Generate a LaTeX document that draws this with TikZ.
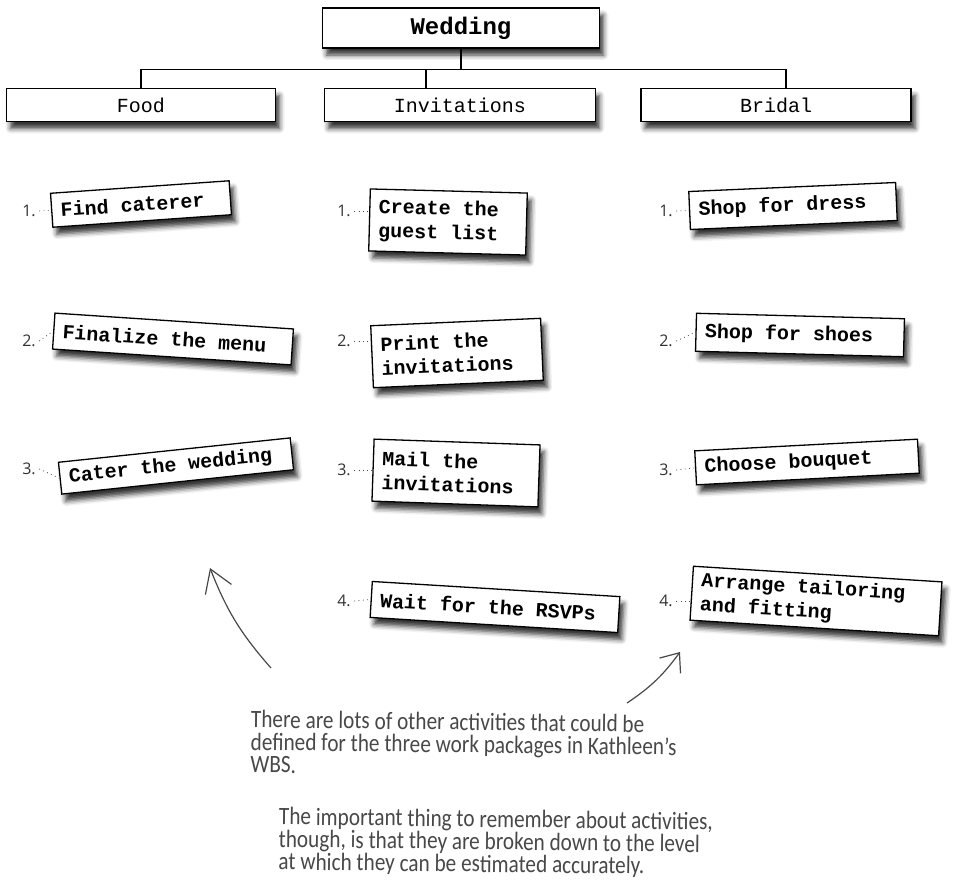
\documentclass[tikz,border=0pt]{standalone}
\usepackage{fontspec}
\setmonofont{Liberation Mono}
\newfontfamily\handfont[FakeStretch=0.85]{Carlito}
\newfontfamily\numfont{Open Sans}
\usetikzlibrary{arrows.meta,shadows.blur}
\definecolor{pencil}{HTML}{484848}
\newcommand\taskfont{\fontsize{20}{24}\selectfont\ttfamily\bfseries}
\newcommand\gap{\char32\relax}

\begin{document}
\begin{tikzpicture}[x=1pt,y=-1pt]

\tikzstyle{wbs} = [rectangle, draw=black, line width=1.3pt, fill=white, minimum height=33pt, font=\fontsize{20}{24}\selectfont\ttfamily, blur shadow={shadow xshift=4pt, shadow yshift=-7pt, shadow blur radius=5pt, shadow opacity=80}]
\tikzstyle{task} = [wbs, font=\taskfont, align=left, inner xsep=9pt]
\tikzstyle{num} = [font=\fontsize{16}{18}\selectfont\numfont, text=pencil!70!black]
\tikzstyle{leader} = [pencil, line width=0.8pt, dash pattern=on 0.8pt off 3.5pt]
\tikzstyle{tree} = [line width=1.3pt]
\tikzstyle{hand} = [pencil, line width=1.2pt]
\tikzstyle{note} = [font=\fontsize{25}{22.5}\selectfont\handfont, text=pencil, align=left, inner sep=0pt]

\useasboundingbox (0,0) rectangle (963,879);

\node (wed) [wbs, minimum width=277pt, minimum height=40pt, font=\fontsize{24}{28}\selectfont\ttfamily\bfseries] at (461,28) {Wedding};
\node (food) [wbs, minimum width=269pt] at (141,105) {Food};
\node (inv) [wbs, minimum width=271pt] at (460,105) {Invitations};
\node (brid) [wbs, minimum width=270pt] at (776,105) {Bridal};

\draw [tree] (wed.south) -- ++(0,21) coordinate (bus);
\draw [tree] (food.north) |- (bus) -| ([xshift=10pt]brid.north);
\draw [tree] ([xshift=-34pt]inv.north) -- ([xshift=-34pt]inv.north |- bus);

% rotated text: spaces as glyphs
\node (f1) [task, text width=161pt, minimum height=34pt, rotate=4] at (141,204) {Find\gap caterer};
\node (f2) [task, text width=221pt, minimum height=36pt, rotate=-3.8] at (173,339) {Finalize\gap the\gap menu};
\node (f3) [task, text width=215pt, minimum height=32pt, rotate=6] at (176,466) {Cater\gap the\gap wedding};

\node (i1) [task, text width=139pt, minimum height=62pt, rotate=-1.5] at (448,222) {Create\gap the\\guest\gap list};
\node (i2) [task, text width=152pt, minimum height=62pt, rotate=2.5] at (457,353) {Print\gap the\\invitations};
\node (i3) [task, text width=148pt, minimum height=62pt, rotate=-2] at (456,473) {Mail\gap the\\invitations};
\node (i4) [task, text width=230pt, minimum height=36pt, rotate=-3.5] at (495,607) {Wait\gap for\gap the\gap RSVPs};

\node (b1) [task, text width=189pt, minimum height=38pt, rotate=2.5] at (793,206) {Shop\gap for\gap dress};
\node (b2) [task, text width=190pt, minimum height=38pt, rotate=-1.5] at (800,335) {Shop\gap for\gap shoes};
\node (b3) [task, text width=205pt, minimum height=34pt, rotate=3] at (807,462) {Choose\gap bouquet};
\node (b4) [task, text width=231pt, minimum height=54pt, rotate=-3.6] at (816,601) {Arrange\gap tailoring\\and\gap fitting};

\node (f1n) [num] at (29,211) {1.};
\node (f2n) [num] at (29,341) {2.};
\node (f3n) [num] at (29,469) {3.};
\node (i1n) [num] at (344,211) {1.};
\node (i2n) [num] at (344,341) {2.};
\node (i3n) [num] at (344,470) {3.};
\node (i4n) [num] at (344,601) {4.};
\node (b1n) [num] at (666,211) {1.};
\node (b2n) [num] at (666,341) {2.};
\node (b3n) [num] at (666,470) {3.};
\node (b4n) [num] at (666,601) {4.};

\draw [leader] (f1n.east) -- (f1.west);
\draw [leader] (f2n.east) -- (f2.west);
\draw [leader] (f3n.east) -- (f3.west);
\draw [leader] (i1n.east) -- (i1.west |- i1n);
\draw [leader] (i2n.east) -- (i2.west |- i2n);
\draw [leader] (i3n.east) -- (i3.west |- i3n);
\draw [leader] (i4n.east) -- (i4.west);
\draw [leader] (b1n.east) -- (b1.west);
\draw [leader] (b2n.east) -- (b2.west);
\draw [leader] (b3n.east) -- (b3.west);
\draw [leader] (b4n.east) -- (b4.west |- b4n);

\node (note1) [note, anchor=north west, rotate=-0.7] at (251,710) {There are lots of other activities that could be\\defined for the three work packages in Kathleen’s\\WBS.};
\node (note2) [note, anchor=north west, rotate=-0.7] at (279,807) {The important thing to remember about activities,\\though, is that they are broken down to the level\\at which they can be estimated accurately.};

\coordinate (lefttail) at (271,668);
\coordinate (lefthead) at (210,568);
\coordinate (righttail) at (627,703);
\coordinate (righthead) at (680,652);
\draw [hand, -{Straight Barb[length=22pt, width=28pt]}] (lefttail) to[bend left=10] (lefthead);
\draw [hand, -{Straight Barb[length=16pt, width=26pt]}] (righttail) to[bend right=10] (righthead);

\end{tikzpicture}
\end{document}
